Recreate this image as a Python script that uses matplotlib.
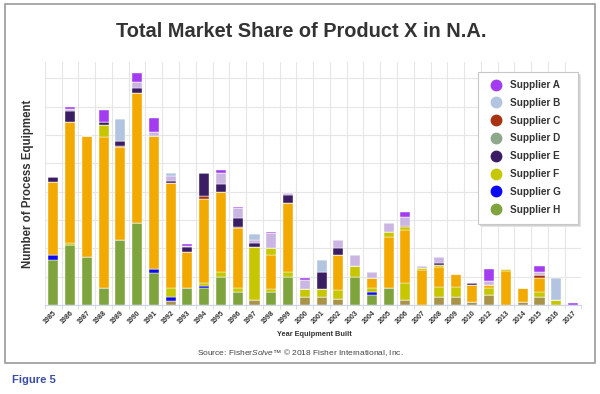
#!/usr/bin/env python3
"""Stacked column chart: equipment built per year, split by supplier."""

import matplotlib

matplotlib.use("Agg")
import matplotlib.pyplot as plt  # noqa: E402
import numpy as np  # noqa: E402
from matplotlib.lines import Line2D  # noqa: E402
from matplotlib.patches import Rectangle  # noqa: E402

plt.rcParams["font.family"] = ["Liberation Sans", "DejaVu Sans"]
plt.rcParams["mathtext.fontset"] = "custom"
plt.rcParams["mathtext.it"] = "Liberation Sans:italic"
plt.rcParams["mathtext.rm"] = "Liberation Sans"

YEARS = ["1985", "1986", "1987", "1988", "1989", "1990", "1991", "1992",
         "1993", "1994", "1995", "1996", "1997", "1998", "1999", "2000",
         "2001", "2002", "2003", "2004", "2005", "2006", "2007", "2008",
         "2009", "2010", "2012", "2013", "2014", "2015", "2016", "2017"]

# values, stacked bottom to top in this order
other_tan = [0, 0, 0, 0, 0, 0, 0, 1.5, 0, 0, 0, 0, 1.8, 0, 0, 2.9,
             2.9, 2.0, 0, 0, 0, 1.8, 0, 2.9, 2.9, 0.9, 3.5, 0, 1.2, 2.9, 0, 0]
supplier_h = [15.9, 21.2, 17.1, 5.9, 22.9, 28.8, 11.2, 0, 5.9, 5.9, 10.0, 4.7,
              0, 4.7, 10.0, 0, 0, 0, 10.0, 3.5, 5.9, 0, 0, 0, 0, 0, 0, 0, 0, 0,
              0, 0]
supplier_g = [1.8, 0, 0, 0, 0, 0, 1.4, 1.2, 0, 0.9, 0, 0, 0, 0, 0, 0,
              0, 0, 0, 1.2, 0, 0, 0, 0, 0, 0, 0, 0, 0, 0, 0, 0]
supplier_f = [0, 0.6, 0, 0, 0, 0, 0, 3.2, 0, 0.8, 1.8, 1.2, 18.8, 0.8, 1.8, 2.9,
              2.9, 3.3, 3.8, 1.2, 0, 5.9, 0, 3.3, 3.5, 0, 2.4, 0, 0, 1.8, 1.8, 0]
other_orange = [25.9, 42.9, 42.6, 53.5, 32.9, 45.9, 47.1, 37.1, 12.9, 30.0,
                28.2, 21.2, 0, 12.1, 24.1, 0, 0, 12.4, 0, 3.5, 18.0, 18.8,
                12.4, 7.3, 4.5, 6.1, 1.2, 12.0, 4.7, 4.7, 0, 0]
supplier_f_upper = [0, 0, 0, 4.1, 0, 0, 0, 0, 0, 0, 0, 0, 0, 2.4, 0, 0,
                    0, 0, 0, 0, 2.0, 0.9, 0.6, 0.6, 0, 0, 0, 0.6, 0, 0, 0, 0]
supplier_c = [0, 0, 0, 0, 0.5, 0, 0, 0, 0, 1.0, 0, 0.6, 0, 0, 0, 0,
              0, 0, 0, 0, 0, 0.5, 0, 0, 0, 0, 0, 0, 0, 1.2, 0, 0]
supplier_d = [0] * 32
supplier_e = [1.5, 3.9, 0, 1.2, 1.5, 1.8, 0, 0.9, 1.6, 8.1, 2.7, 2.9, 1.2, 0,
              2.9, 0, 5.9, 2.4, 0, 0, 0, 0, 0, 0.8, 0, 0.8, 0, 0, 0, 0, 0, 0]
other_lavender = [0, 0.7, 0, 0, 0, 2.4, 1.5, 1.6, 0.6, 0, 4.0, 3.5, 1.2, 5.3,
                  0.8, 3.2, 0, 2.9, 3.9, 2.4, 2.9, 3.1, 0.8, 1.9, 0, 0, 1.2,
                  0, 0, 1.2, 0, 0]
supplier_b = [0, 0, 0, 0, 8.0, 0, 0, 1.2, 0, 0, 0, 0, 2.1, 0, 0, 0,
              4.1, 0, 0, 0, 0, 0, 0, 0, 0, 0, 0, 0, 0, 0, 7.9, 0]
supplier_a = [0, 0.6, 0, 4.1, 0, 2.9, 4.7, 0, 0.6, 0, 0.9, 0.6, 0, 0.6, 0, 0.7,
              0, 0, 0, 0, 0, 1.8, 0, 0, 0, 0, 4.4, 0, 0, 2.0, 0, 0.8]

COLORS = {
    "A": "#a33cf0", "B": "#b3c4e0", "C": "#a8320f", "D": "#8fa88c",
    "E": "#3a1d63", "F": "#c6c700", "G": "#0a0af5", "H": "#7fa33d",
    "orange": "#f3aa00", "tan": "#a99346", "lavender": "#cbb5e3",
}

STACK = [
    (other_tan, "tan"), (supplier_h, "H"), (supplier_g, "G"), (supplier_f, "F"),
    (other_orange, "orange"), (supplier_f_upper, "F"), (supplier_c, "C"),
    (supplier_d, "D"), (supplier_e, "E"), (other_lavender, "lavender"),
    (supplier_b, "B"), (supplier_a, "A"),
]
LEGEND = ["A", "B", "C", "D", "E", "F", "G", "H"]

W, H = 600, 394
fig = plt.figure(figsize=(W / 100, H / 100), dpi=100)
fig.patch.set_facecolor("white")
fig.add_artist(Rectangle((5 / W, 1 - 363 / H), 590 / W, 359 / H,
                         transform=fig.transFigure, fill=False,
                         edgecolor="#9a9a9a", linewidth=1.2))

ax = fig.add_axes([44.9 / W, 1 - 305 / H, 536.5 / W, 243 / H])
x = np.arange(len(YEARS))
bottom = np.zeros(len(YEARS))
for values, key in STACK:
    vals = np.array(values, dtype=float)
    ax.bar(x, vals, width=0.6, bottom=bottom, color=COLORS[key],
           edgecolor="white", linewidth=0.3, zorder=3)
    bottom += vals

ax.set_xlim(-0.5, len(YEARS) - 0.5)
ax.set_ylim(0, 85.8)
ax.set_yticks(np.arange(0, 90, 10))
ax.set_yticklabels([])
ax.tick_params(axis="y", length=0)
ax.set_xticks(x)
ax.set_xticklabels(YEARS, rotation=45, ha="right", rotation_mode="anchor",
                   fontsize=5, fontweight="bold", color="#333333")
ax.set_xticks(np.arange(-0.5, len(YEARS), 1), minor=True)
ax.tick_params(axis="x", which="major", length=0, pad=3)
ax.tick_params(axis="x", which="minor", length=3, color="#ccd6eb")
ax.grid(axis="y", color="#e6e6e6", linewidth=0.8, zorder=0)
ax.grid(axis="x", which="minor", color="#e6e6e6", linewidth=0.8, zorder=0)
for side in ("left", "right", "top"):
    ax.spines[side].set_visible(False)
ax.spines["bottom"].set_color("#ccd6eb")

# legend box drawn by hand so its size matches, with a soft shadow
for off, col in ((3, "#e4e4e4"), (2, "#d2d2d2"), (1, "#c4c4c4")):
    fig.add_artist(Rectangle(((478 + off) / W, 1 - (224 + off) / H), 100 / W,
                             152 / H, transform=fig.transFigure,
                             facecolor=col, edgecolor="none", zorder=4))
fig.add_artist(Rectangle((478 / W, 1 - 224 / H), 100 / W, 152 / H,
                         transform=fig.transFigure, facecolor="white",
                         edgecolor="#c8c8c8", linewidth=0.8, zorder=4))

handles = [Line2D([], [], marker="o", linestyle="none", markersize=7.5,
                  markerfacecolor=COLORS[k], markeredgecolor=COLORS[k])
           for k in LEGEND]
leg = fig.legend(handles, [f"Supplier {k}" for k in LEGEND],
                 loc="upper left", bbox_to_anchor=(491 / W, 1 - 80 / H),
                 borderaxespad=0, prop={"size": 7.2, "weight": "bold"},
                 labelcolor="#333333", frameon=False, borderpad=0,
                 labelspacing=0.78, handlelength=1.0, handletextpad=0.9)
leg.set_zorder(6)

fig.text(301 / W, 1 - 36.7 / H, "Total Market Share of Product X in N.A.",
         ha="center", va="baseline", fontsize=14.4, fontweight="bold",
         color="#333333")
fig.text(28 / W, 1 - 184 / H, "Number of Process Equipment", rotation=90,
         ha="center", va="center", fontsize=8.3, fontweight="bold",
         color="#333333")
fig.text(314 / W, 1 - 334 / H, "Year Equipment Built", ha="center",
         va="center", fontsize=5.3, fontweight="bold", color="#333333")
fig.text(300 / W, 1 - 352.3 / H,
         r"Source: Fisher$\it{Solve}$™ © 2018 Fisher International, Inc.",
         ha="center", va="center", fontsize=6, color="#444444")
fig.text(12 / W, 1 - 380 / H, "Figure 5", ha="left", va="center",
         fontsize=8.1, fontweight="bold", color="#3a4ea6")

fig.savefig("out.png", dpi=100)
